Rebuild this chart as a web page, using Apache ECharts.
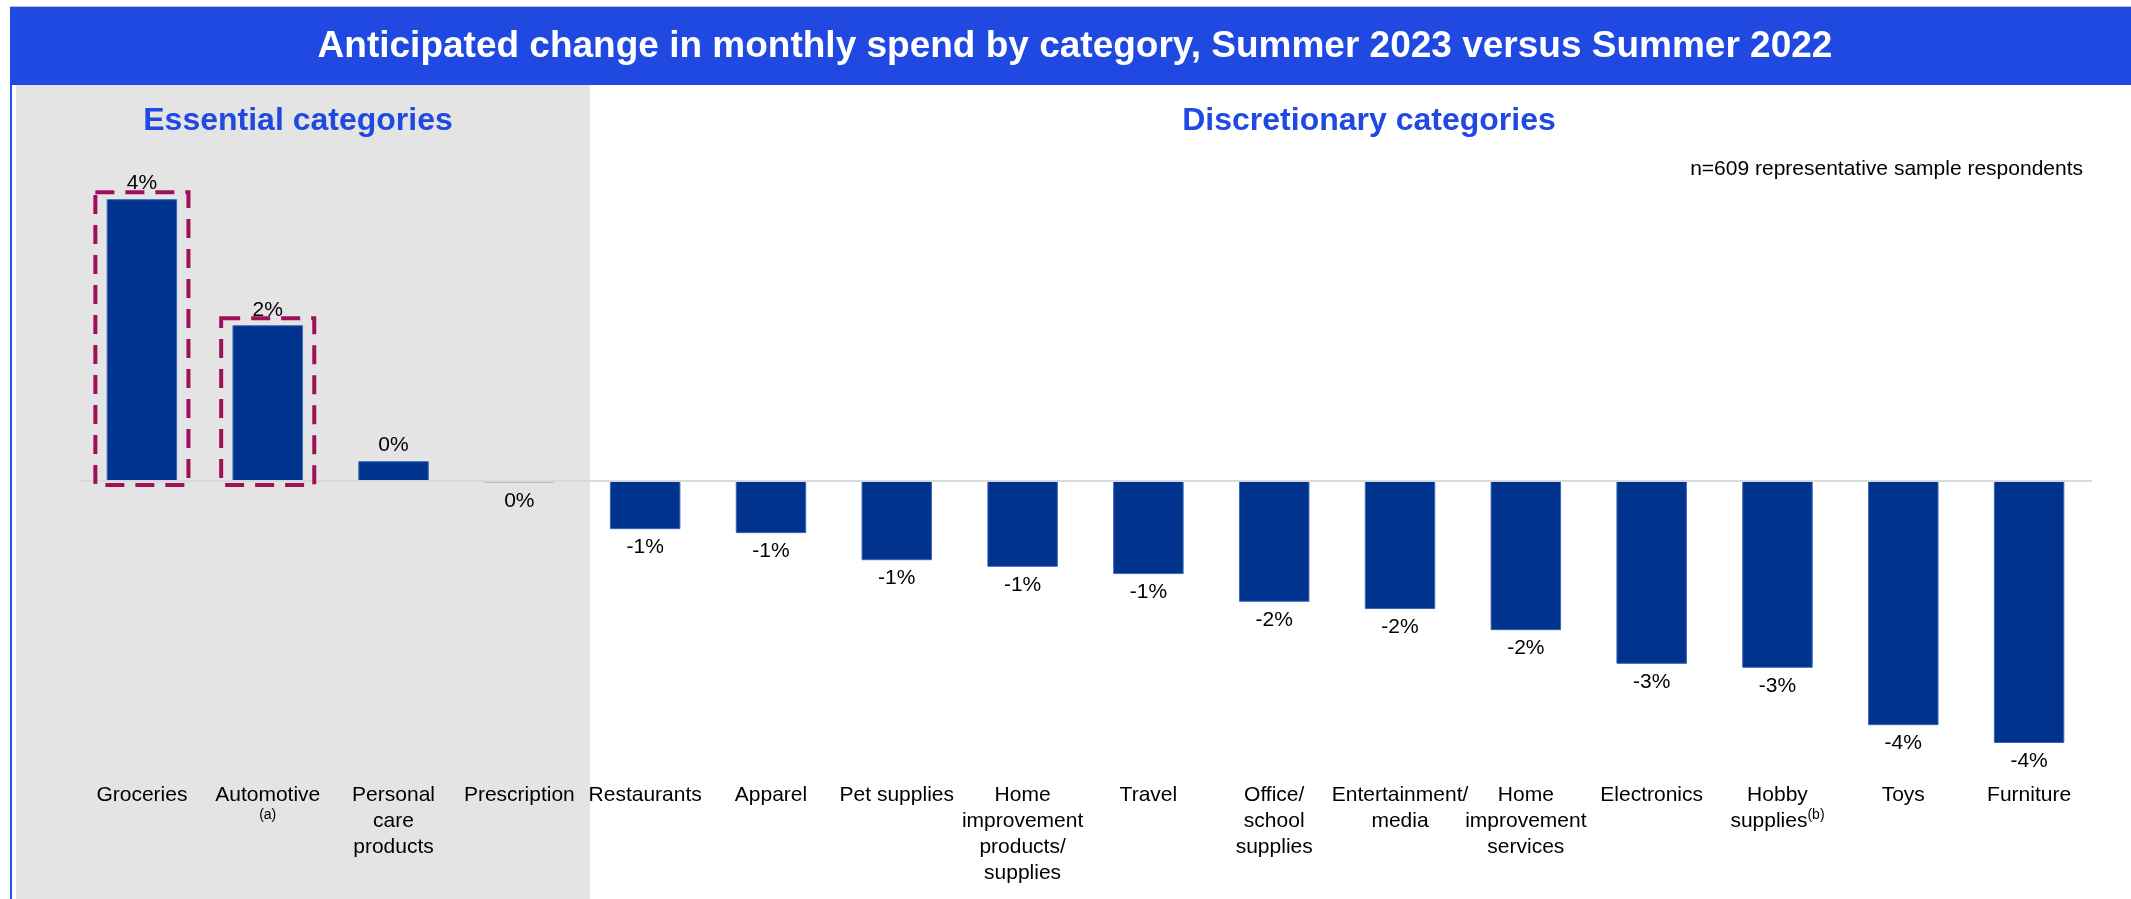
<!DOCTYPE html>
<html>
<head>
<meta charset="utf-8">
<script src="https://cdn.jsdelivr.net/npm/echarts@6/dist/echarts.min.js"></script>
<style>
  html, body { margin: 0; padding: 0; background: #ffffff; }
  #chart { width: 2131px; height: 899px; }
</style>
</head>
<body>
<div id="chart"></div>
<script>
// ---- Data ----
const categories = [
  'Groceries', 'Automotive\n(a)', 'Personal\ncare\nproducts', 'Prescription',
  'Restaurants', 'Apparel', 'Pet supplies', 'Home\nimprovement\nproducts/\nsupplies',
  'Travel', 'Office/\nschool\nsupplies', 'Entertainment/\nmedia', 'Home\nimprovement\nservices',
  'Electronics', 'Hobby\nsupplies(b)', 'Toys', 'Furniture'
];
// anticipated change in monthly spend, percent
const values = [4.27, 2.36, 0.30, -0.02, -0.73, -0.79, -1.20, -1.30, -1.41, -1.83, -1.94, -2.26, -2.77, -2.83, -3.70, -3.97];
// categories outlined with a dashed box
const highlighted = [0, 1];

const titleText = 'Anticipated change in monthly spend by category, Summer 2023 versus Summer 2022';
const groupLabels = ['Essential categories', 'Discretionary categories'];
const noteText = 'n=609 representative sample respondents';

// ---- Styling ----
const FONT = '"Liberation Sans", Arial, Helvetica, sans-serif';
const BLUE = '#2049E2';
const NAVY = '#00338D';

const chart = echarts.init(document.getElementById('chart'), null, { renderer: 'canvas' });

function pctLabel(v) {
  const r = Math.round(v);
  return (r === 0 ? 0 : r) + '%';
}

const barData = values.map(v => ({
  value: v,
  label: {
    position: v >= 0 ? 'top' : 'bottom',
    distance: v >= 0 ? 5 : 8
  }
}));

const boxData = highlighted.map(i => [i, values[i]]);

const option = {
  animation: false,
  backgroundColor: '#ffffff',
  graphic: [
    { type: 'rect', z: -10, shape: { x: 10, y: 6, width: 2121, height: 1 }, style: { fill: '#b9c4e8' } },
    { type: 'rect', z: -10, shape: { x: 10, y: 7, width: 2121, height: 78 }, style: { fill: BLUE } },
    { type: 'rect', z: -10, shape: { x: 10, y: 85, width: 2, height: 814 }, style: { fill: '#2b55ea' } },
    { type: 'rect', z: -10, shape: { x: 16, y: 85, width: 574, height: 814 }, style: { fill: '#E4E4E4' } },
    { type: 'text', z: 10, x: 1075, y: 47, style: { text: titleText, fill: '#ffffff', font: 'bold 37px ' + FONT, textAlign: 'center', textVerticalAlign: 'middle' } },
    { type: 'text', z: 10, x: 298, y: 121, style: { text: groupLabels[0], fill: BLUE, font: 'bold 32px ' + FONT, textAlign: 'center', textVerticalAlign: 'middle' } },
    { type: 'text', z: 10, x: 1369, y: 121, style: { text: groupLabels[1], fill: BLUE, font: 'bold 32px ' + FONT, textAlign: 'center', textVerticalAlign: 'middle' } },
    { type: 'text', z: 10, x: 2083, y: 169, style: { text: noteText, fill: '#000000', font: '21px ' + FONT, textAlign: 'right', textVerticalAlign: 'middle' } }
  ],
  grid: { left: 79, right: 39, top: 151, bottom: 121, containLabel: false },
  xAxis: {
    type: 'category',
    data: categories,
    axisLine: { show: false, onZero: false },
    axisTick: { show: false },
    splitLine: { show: false },
    axisLabel: {
      interval: 0,
      margin: 4,
      color: '#000000',
      fontFamily: FONT,
      fontSize: 21,
      lineHeight: 26,
      align: 'center',
      formatter: v => v.replace(/\((a|b)\)/, '{sup|($1)}'),
      rich: {
        sup: { fontSize: 14, lineHeight: 16, fontFamily: FONT, color: '#000000', verticalAlign: 'top' }
      }
    }
  },
  yAxis: {
    type: 'value',
    min: -4.5,
    max: 5,
    show: false,
    splitLine: { show: false }
  },
  series: [
    {
      type: 'bar',
      data: barData,
      barWidth: '56%',
      itemStyle: { color: NAVY, borderColor: '#3a64b8', borderWidth: 1 },
      label: {
        show: true,
        color: '#000000',
        fontFamily: FONT,
        fontSize: 21,
        formatter: p => pctLabel(p.value)
      },
      markLine: {
        silent: true,
        symbol: ['none', 'none'],
        label: { show: false },
        lineStyle: { color: '#D9D9D9', width: 2, type: 'solid' },
        data: [{ yAxis: 0 }]
      },
      z: 2
    },
    {
      type: 'custom',
      data: boxData,
      z: 5,
      silent: true,
      renderItem: function (params, api) {
        const xi = api.value(0);
        const v = api.value(1);
        const top = api.coord([xi, v]);
        const base = api.coord([xi, 0]);
        const band = api.size([1, 0])[0];
        const w = band * 0.74;
        const y0 = top[1] - 7;
        const y1 = base[1] + 4;
        return {
          type: 'rect',
          shape: { x: top[0] - w / 2, y: y0, width: w, height: y1 - y0 },
          style: { fill: 'none', stroke: '#A00F5A', lineWidth: 4, lineDash: [19, 11] }
        };
      }
    }
  ]
};

chart.setOption(option);
</script>
</body>
</html>
